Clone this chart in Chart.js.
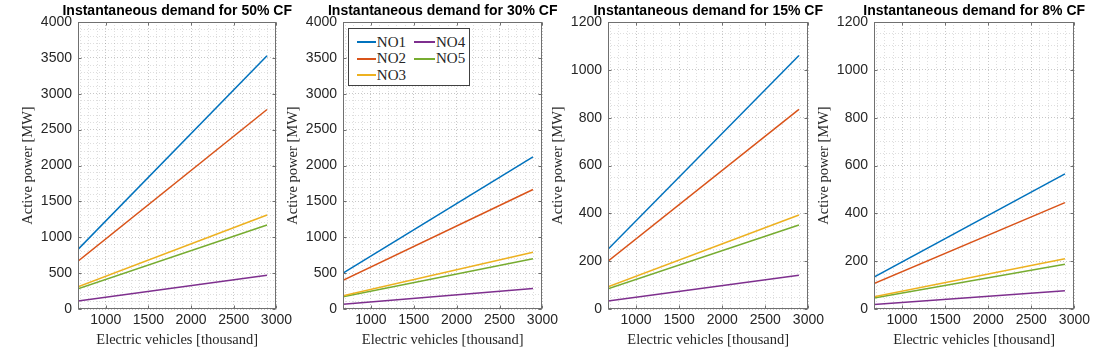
<!DOCTYPE html>
<html>
<head>
<meta charset="utf-8">
<script src="https://cdn.jsdelivr.net/npm/chart.js@4.4.0/dist/chart.umd.min.js"></script>
<style>
  body { margin: 0; background: #fff; }
  .wrap { position: relative; width: 1100px; height: 351px; overflow: hidden; }
  .wrap canvas { position: absolute; top: 0; }
  .legend {
    position: absolute; left: 348px; top: 28px; width: 120px; height: 51px;
    border: 1px solid #404040; background: #fff; box-sizing: content-box;
    display: grid; grid-auto-flow: column; grid-template-rows: repeat(3, 16.5px);
    grid-template-columns: 57px auto; padding: 5px 0 0 0;
    font: 15px "Liberation Serif", serif; color: #262626;
  }
  .legend .item { display: flex; align-items: center; padding-left: 8px; }
  .legend .line { width: 21px; height: 2px; margin-right: 1px; }
</style>
</head>
<body>
<div class="wrap" id="wrap">
  <canvas id="c1" width="295" height="351" style="left:0px"></canvas>
  <canvas id="c2" width="296" height="351" style="left:265px"></canvas>
  <canvas id="c3" width="297" height="351" style="left:530px"></canvas>
  <canvas id="c4" width="297" height="351" style="left:796px"></canvas>
  <div class="legend" id="legend"></div>
</div>
<script>
"use strict";
// x: electric vehicles [thousand], first and last point of every line
const evThousand = [675, 2890];
const regions = ["NO1", "NO2", "NO3", "NO4", "NO5"];
const colors = ["#0072BD", "#D95319", "#EDB120", "#7E2F8E", "#77AC30"];
const cfLabels = ["50%", "30%", "15%", "8%"];
// active power [MW] at the first / last point, rows NO1..NO5
const demand50 = [[830, 3530], [665, 2780], [310, 1310], [110, 470], [280, 1170]];
const demand30 = [[500, 2120], [400, 1665], [185, 790], [65, 285], [170, 700]];
const demand15 = [[250, 1060], [200, 835], [93, 393], [33, 141], [84, 351]];
const demand8 = [[133, 565], [106, 445], [51, 210], [19, 76], [46, 187]];
// axes
const xMin = 675;
const xMax = 3000;
const yMax = [4000, 4000, 1200, 1200];
const yStep = [500, 500, 200, 200];
const yMinorStep = [100, 100, 50, 50];

const tickFont = { family: "'Liberation Sans', Arial, sans-serif", size: 14 };
const serifFont = { family: "'Liberation Serif', 'Times New Roman', serif", size: 14.5 };

const boxPlugin = {
  id: "box",
  afterDraw(chart, args, opts) {
    const { ctx, chartArea: a, scales } = chart;
    const l = Math.round(a.left) + 0.5, r = Math.round(a.right) - 0.5;
    const t = Math.round(a.top) + 0.5, b = Math.round(a.bottom) - 0.5;
    ctx.save();
    ctx.strokeStyle = "#707070";
    ctx.lineWidth = 1;
    ctx.strokeRect(l, t, r - l, b - t);
    // inward tick marks on the major ticks
    ctx.beginPath();
    scales.x.ticks.forEach((tk) => {
      if (tk.value % 500 !== 0) return;
      const px = Math.round(scales.x.getPixelForValue(tk.value)) + 0.5;
      ctx.moveTo(px, b); ctx.lineTo(px, b - 3);
      ctx.moveTo(px, t); ctx.lineTo(px, t + 3);
    });
    scales.y.ticks.forEach((tk) => {
      if (tk.value % opts.major !== 0) return;
      const py = Math.round(scales.y.getPixelForValue(tk.value)) + 0.5;
      ctx.moveTo(l, py); ctx.lineTo(l + 3, py);
      ctx.moveTo(r, py); ctx.lineTo(r - 3, py);
    });
    ctx.stroke();
    // title
    ctx.fillStyle = "#000";
    ctx.font = "bold 14px 'Liberation Sans', Arial, sans-serif";
    ctx.textAlign = "center";
    ctx.textBaseline = "middle";
    ctx.fillText(opts.text, (a.left + a.right) / 2, 11);
    ctx.restore();
  },
};

function stepTicks(min, max, step) {
  let out = [];
  for (let v = Math.ceil(min / step) * step; v <= max; v += step) out.push({ value: v });
  return out;
}

function gridColor(major) {
  return (c) => (c.tick && c.tick.value % major === 0 ? "rgba(0,0,0,0.22)" : "rgba(0,0,0,0.13)");
}

function makeChart(id, idx, demand) {
  const ctx = document.getElementById(id).getContext("2d");
  const datasets = regions.map((name, i) => ({
    label: name,
    data: evThousand.map((x, k) => ({ x: x, y: demand[i][k] })),
    borderColor: colors[i],
    backgroundColor: colors[i],
    borderWidth: 1.5,
    pointRadius: 0,
    tension: 0,
  }));
  const config = {
    type: "line",
    data: { datasets: datasets },
    options: {
      responsive: false,
      animation: false,
      layout: { padding: { top: 22, right: 16, left: 0, bottom: 0 } },
      plugins: {
        legend: { display: false },
        tooltip: { enabled: false },
        box: { text: "Instantaneous demand for " + cfLabels[idx] + " CF", major: yStep[idx] },
      },
      scales: {
        x: {
          type: "linear",
          min: xMin,
          max: xMax,
          afterBuildTicks: (s) => { s.ticks = stepTicks(xMin, xMax, 100); },
          afterFit: (s) => { s.height = 42; },
          grid: { color: gridColor(500), drawTicks: false, lineWidth: 1 },
          border: { display: false, dash: [1, 2] },
          ticks: {
            autoSkip: false,
            maxRotation: 0,
            padding: 3,
            color: "#262626",
            font: tickFont,
            callback: (v) => (v % 500 === 0 ? String(v) : ""),
          },
          title: {
            display: true,
            text: "Electric vehicles [thousand]",
            color: "#262626",
            font: serifFont,
            padding: { top: 0, bottom: 2 },
          },
        },
        y: {
          min: 0,
          max: yMax[idx],
          afterBuildTicks: (s) => { s.ticks = stepTicks(0, yMax[idx], yMinorStep[idx]); },
          afterFit: (s) => { s.width = 78; },
          grid: { color: gridColor(yStep[idx]), drawTicks: false, lineWidth: 1 },
          border: { display: false, dash: [1, 2] },
          ticks: {
            autoSkip: false,
            padding: 6,
            color: "#262626",
            font: tickFont,
            callback: (v) => (v % yStep[idx] === 0 ? String(v) : ""),
          },
          title: {
            display: true,
            text: "Active power [MW]",
            color: "#262626",
            font: serifFont,
            padding: { top: 19, bottom: 0 },
          },
        },
      },
    },
    plugins: [boxPlugin],
  };
  return new Chart(ctx, config);
}

function renderLegend() {
  let html = regions
    .map((name, i) => `<div class="item"><span class="line" style="background:${colors[i]}"></span>${name}</div>`)
    .join("");
  document.getElementById("legend").innerHTML = html;
}

makeChart("c1", 0, demand50);
makeChart("c2", 1, demand30);
makeChart("c3", 2, demand15);
makeChart("c4", 3, demand8);
renderLegend();
</script>
</body>
</html>
